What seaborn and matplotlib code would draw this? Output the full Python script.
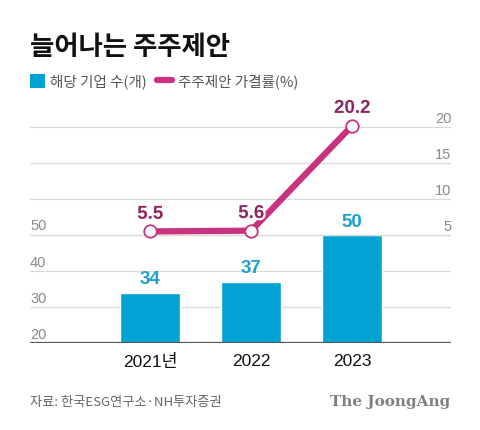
import pandas as pd
import matplotlib.pyplot as plt
import matplotlib.patheffects as pe
from matplotlib.lines import Line2D
from matplotlib.patches import Patch
import seaborn as sns

# --- data ---
years = ['2021년', '2022', '2023']
companies = [34, 37, 50]
pass_rate = [5.5, 5.6, 20.2]
left_ticks = [20, 30, 40, 50]
right_ticks = [5, 10, 15, 20]

BLUE = '#00A3D3'
MAGENTA = '#C8327F'
MAG_TEXT = '#8E2660'
GRAY = '#8a8a8a'
NUM_FONT = ['Liberation Sans', 'Noto Sans CJK KR']

sns.set_theme(style='white')
plt.rcParams['font.family'] = ['Noto Sans CJK KR', 'DejaVu Sans']

df = pd.DataFrame({'year': years, 'companies': companies, 'rate': pass_rate})

fig = plt.figure(figsize=(4.8, 4.3), dpi=100)
ax = fig.add_axes([0.0625, 0.2023, 0.8775, 0.5303])

sns.barplot(data=df, x='year', y='companies', color=BLUE, width=0.59,
            saturation=1, ax=ax, zorder=3)
ax.set_xlim(-1.19, 2.98)
ax.set_ylim(20, 83.3)
ax.set_xlabel('')
ax.set_ylabel('')
ax.set_yticks([])
for v in left_ticks:
    ax.axhline(v, color='#d9d9d9', lw=0.9, zorder=1)
    ax.text(-1.19, v + 0.4, str(v), color=GRAY, fontsize=10.5, family=NUM_FONT,
            ha='left', va='bottom')
ax.axhline(20, color='#555555', lw=1.6, zorder=4)
for i, v in enumerate(companies):
    ax.text(i, v + 1.2, str(v), color='#1AA3CF', fontsize=13.5, fontweight='bold',
            family=NUM_FONT, ha='center', va='bottom')
ax.tick_params(axis='x', length=0, labelsize=12.5, colors='#111111', pad=8)
for lab in ax.get_xticklabels():
    lab.set_family(NUM_FONT)
for s in ax.spines.values():
    s.set_visible(False)

ax2 = ax.twinx()
ax2.set_ylim(-10, 21.67)
ax2.set_yticks([])
for s in ax2.spines.values():
    s.set_visible(False)
for v in right_ticks:
    ax2.axhline(v, color='#d9d9d9', lw=0.9, zorder=1)
    ax2.text(2.98, v + 0.2, str(v), color=GRAY, fontsize=10.5, family=NUM_FONT,
             ha='right', va='bottom')
sns.lineplot(x=range(len(years)), y=pass_rate, ax=ax2, color=MAGENTA, lw=4.5,
             marker='o', markersize=9, markerfacecolor='white',
             markeredgecolor=MAGENTA, markeredgewidth=1.3, zorder=5)
for i, v in enumerate(pass_rate):
    ax2.text(i, v + 1.2, f'{v}', color=MAG_TEXT, fontsize=13.5, fontweight='bold',
             family=NUM_FONT, ha='center', va='bottom', zorder=6,
             path_effects=[pe.withStroke(linewidth=3, foreground='white')])

fig.text(0.0625, 0.89, '늘어나는 주주제안', fontsize=19, fontweight='bold',
         color='#111111', ha='left', va='center')
handles = [Patch(facecolor=BLUE, edgecolor='none'),
           Line2D([0], [0], color=MAGENTA, lw=4.5, solid_capstyle='round')]
fig.legend(handles, ['해당 기업 수(개)', '주주제안 가결률(%)'], loc='center left',
           bbox_to_anchor=(0.035, 0.81), ncol=2, frameon=False, fontsize=10.5,
           handlelength=1.0, handleheight=1.1, handletextpad=0.4, columnspacing=0.7,
           labelcolor='#555555')
fig.text(0.0625, 0.065, '자료: 한국ESG연구소·NH투자증권', fontsize=9.5,
         color='#666666', ha='left', va='center')
fig.text(0.937, 0.065, 'The JoongAng', fontsize=11, fontweight='bold',
         family='DejaVu Serif', color='#808080', ha='right', va='center')

fig.savefig('out.png', dpi=100)
